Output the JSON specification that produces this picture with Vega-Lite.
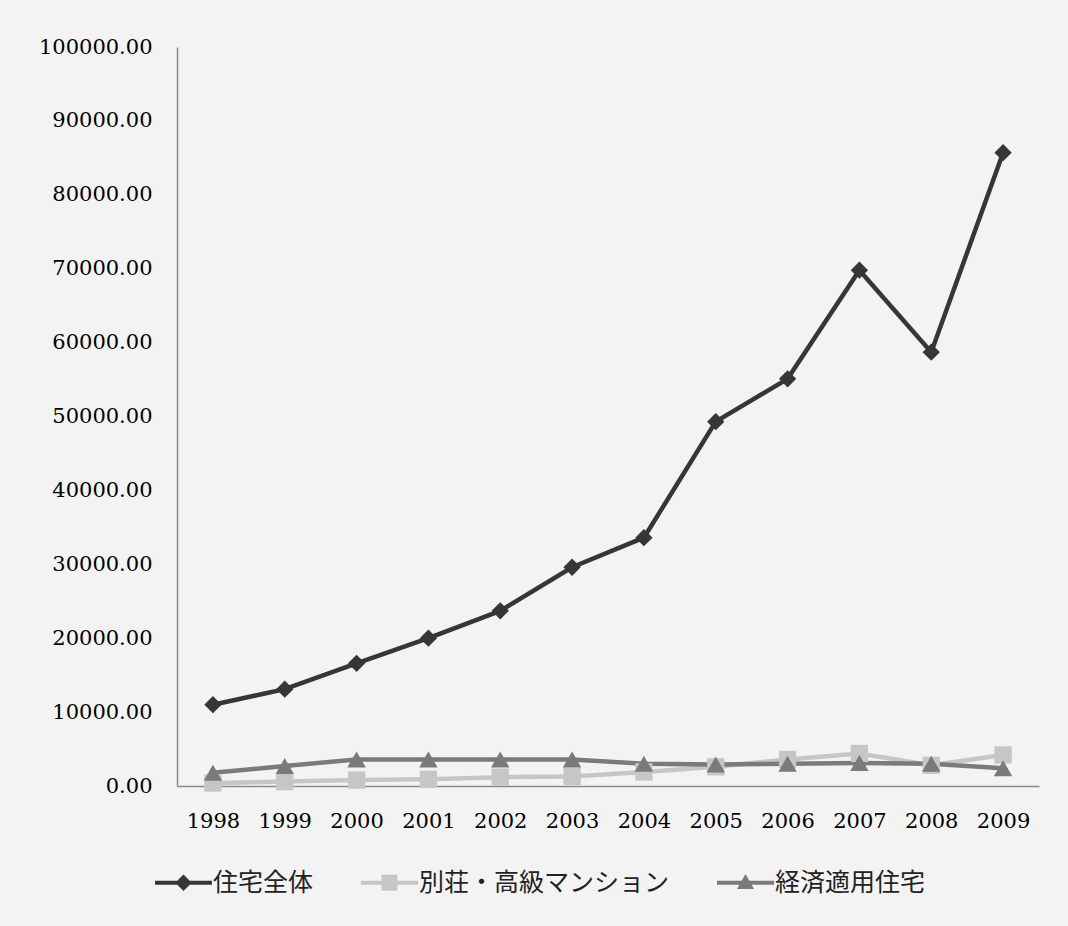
{
  "$schema": "https://vega.github.io/schema/vega-lite/v6.json",
  "width": 862,
  "height": 739,
  "autosize": {"type": "none"},
  "padding": {"left": 177, "top": 47, "right": 29, "bottom": 140},
  "background": "#f3f3f3",
  "config": {"view": {"stroke": null}},
  "data": {
    "values": [
      {"year": "1998", "series": "別荘・高級マンション", "value": 400},
      {"year": "1999", "series": "別荘・高級マンション", "value": 600},
      {"year": "2000", "series": "別荘・高級マンション", "value": 800},
      {"year": "2001", "series": "別荘・高級マンション", "value": 900},
      {"year": "2002", "series": "別荘・高級マンション", "value": 1200},
      {"year": "2003", "series": "別荘・高級マンション", "value": 1300},
      {"year": "2004", "series": "別荘・高級マンション", "value": 1900},
      {"year": "2005", "series": "別荘・高級マンション", "value": 2600},
      {"year": "2006", "series": "別荘・高級マンション", "value": 3600},
      {"year": "2007", "series": "別荘・高級マンション", "value": 4400},
      {"year": "2008", "series": "別荘・高級マンション", "value": 2800},
      {"year": "2009", "series": "別荘・高級マンション", "value": 4200},
      {"year": "1998", "series": "経済適用住宅", "value": 1800},
      {"year": "1999", "series": "経済適用住宅", "value": 2700},
      {"year": "2000", "series": "経済適用住宅", "value": 3600},
      {"year": "2001", "series": "経済適用住宅", "value": 3600},
      {"year": "2002", "series": "経済適用住宅", "value": 3600},
      {"year": "2003", "series": "経済適用住宅", "value": 3600},
      {"year": "2004", "series": "経済適用住宅", "value": 3000},
      {"year": "2005", "series": "経済適用住宅", "value": 2900},
      {"year": "2006", "series": "経済適用住宅", "value": 3000},
      {"year": "2007", "series": "経済適用住宅", "value": 3100},
      {"year": "2008", "series": "経済適用住宅", "value": 3000},
      {"year": "2009", "series": "経済適用住宅", "value": 2400},
      {"year": "1998", "series": "住宅全体", "value": 11000},
      {"year": "1999", "series": "住宅全体", "value": 13100},
      {"year": "2000", "series": "住宅全体", "value": 16600},
      {"year": "2001", "series": "住宅全体", "value": 20000},
      {"year": "2002", "series": "住宅全体", "value": 23700},
      {"year": "2003", "series": "住宅全体", "value": 29600},
      {"year": "2004", "series": "住宅全体", "value": 33600},
      {"year": "2005", "series": "住宅全体", "value": 49300},
      {"year": "2006", "series": "住宅全体", "value": 55100},
      {"year": "2007", "series": "住宅全体", "value": 69800},
      {"year": "2008", "series": "住宅全体", "value": 58700},
      {"year": "2009", "series": "住宅全体", "value": 85700}
    ]
  },
  "encoding": {
    "x": {
      "field": "year",
      "type": "ordinal",
      "scale": {"type": "point", "padding": 0.5},
      "axis": {
        "title": null,
        "labelAngle": 0,
        "ticks": false,
        "labelPadding": 24,
        "labelFont": "DejaVu Serif",
        "labelFontSize": 21,
        "labelColor": "#000000",
        "domainColor": "#8a8a8a",
        "domainWidth": 1.5
      }
    },
    "y": {
      "field": "value",
      "type": "quantitative",
      "scale": {"domain": [0, 100000], "nice": false},
      "axis": {
        "title": null,
        "values": [0, 10000, 20000, 30000, 40000, 50000, 60000, 70000, 80000, 90000, 100000],
        "format": ".2f",
        "grid": false,
        "ticks": false,
        "labelPadding": 25,
        "labelFont": "DejaVu Serif",
        "labelFontSize": 21,
        "labelColor": "#000000",
        "domainColor": "#8a8a8a",
        "domainWidth": 1.5
      }
    },
    "color": {
      "field": "series",
      "type": "nominal",
      "scale": {
        "domain": ["住宅全体", "別荘・高級マンション", "経済適用住宅"],
        "range": ["#363636", "#c6c6c6", "#7a7a7a"]
      },
      "legend": {
        "title": null,
        "orient": "none",
        "direction": "horizontal",
        "legendX": -22,
        "legendY": 807,
        "padding": 0,
        "symbolSize": 3249,
        "symbolStrokeWidth": 0,
        "labelOffset": 1,
        "labelLimit": 400,
        "columnPadding": 47,
        "labelFont": "Noto Sans CJK JP",
        "labelFontSize": 25,
        "labelColor": "#222222",
        "encode": {
          "symbols": {
            "update": {
              "shape": {"signal": "datum.value === '住宅全体' ? 'M-1,-0.07H1V0.07H-1Z M0,-0.29L0.29,0L0,0.29L-0.29,0Z' : (datum.value === '経済適用住宅' ? 'M-1,-0.07H1V0.07H-1Z M0,-0.31L0.3,0.22L-0.3,0.22Z' : 'M-1,-0.07H1V0.07H-1Z M-0.28,-0.28H0.28V0.28H-0.28Z')"},
              "fill": {"scale": "color", "field": "value"},
              "opacity": {"value": 1},
              "strokeWidth": {"value": 0}
            }
          }
        }
      }
    }
  },
  "layer": [
    {
      "mark": {"type": "line", "strokeWidth": 4.5}
    },
    {
      "transform": [{"filter": "datum.series === '別荘・高級マンション'"}],
      "mark": {"type": "point", "filled": true, "opacity": 1, "size": 300, "shape": "square"}
    },
    {
      "transform": [{"filter": "datum.series === '経済適用住宅'"}],
      "mark": {"type": "point", "filled": true, "opacity": 1, "size": 340, "shape": "triangle-up"}
    },
    {
      "transform": [{"filter": "datum.series === '住宅全体'"}],
      "mark": {"type": "point", "filled": true, "opacity": 1, "size": 300, "shape": "diamond"}
    }
  ]
}
